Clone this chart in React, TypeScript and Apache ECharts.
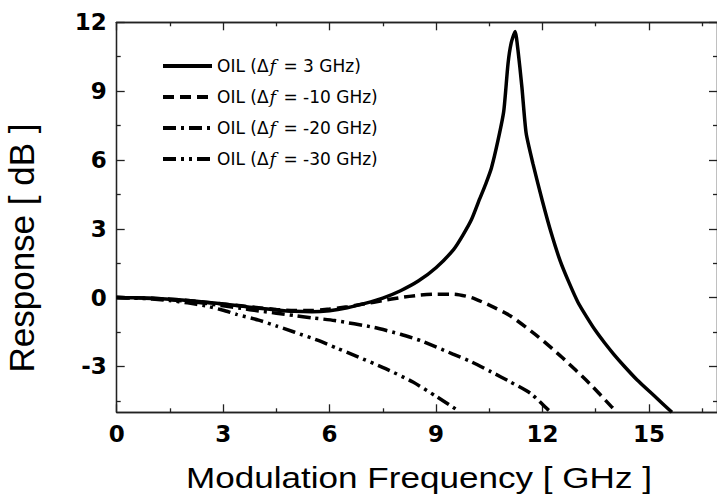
import React, { useEffect, useRef } from "react";
import * as echarts from "echarts";

const X_MAX = 16.92;
const Y_MIN = -5;
const Y_MAX = 12;
const xMajor = [0, 3, 6, 9, 12, 15];
const xMinor = [1.5, 4.5, 7.5, 10.5, 13.5, 16.5];
const yMajor = [-3, 0, 3, 6, 9, 12];
const yMinor = [-4.5, -1.5, 1.5, 4.5, 7.5, 10.5];

const seriesNames = [
  "OIL (Δf = 3 GHz)",
  "OIL (Δf = -10 GHz)",
  "OIL (Δf = -20 GHz)",
  "OIL (Δf = -30 GHz)",
];

const oil3 = [
  [0, 0], [0.5, -0.01], [1, -0.03], [1.5, -0.07], [2, -0.13], [2.5, -0.2], [3, -0.28],
  [3.5, -0.37], [4, -0.46], [4.5, -0.54], [5, -0.6], [5.5, -0.62], [6, -0.57], [6.5, -0.44],
  [7, -0.25], [7.5, -0.02], [8, 0.3], [8.5, 0.72], [9, 1.3], [9.5, 2.1], [9.75, 2.7],
  [10, 3.4], [10.23, 4.3], [10.4, 4.95], [10.56, 5.64], [10.75, 6.87], [10.91, 8.13],
  [11.03, 10.2], [11.12, 11.1], [11.23, 11.6], [11.31, 10.79], [11.42, 9.19], [11.54, 7.17],
  [11.73, 5.85], [12, 4.2], [12.25, 2.8], [12.5, 1.6], [12.75, 0.65], [13, -0.2],
  [13.25, -0.85], [13.5, -1.45], [13.75, -1.97], [14, -2.45], [14.3, -2.98], [14.67, -3.59],
  [15.15, -4.28], [15.65, -5],
];

const oilM10 = [
  [0, 0], [0.5, -0.01], [1, -0.03], [1.5, -0.07], [2, -0.13], [2.5, -0.2], [3, -0.28],
  [3.5, -0.36], [4, -0.44], [4.5, -0.52], [5, -0.56], [5.5, -0.56], [6, -0.5], [6.5, -0.4],
  [7, -0.27], [7.5, -0.13], [8, 0.0], [8.5, 0.1], [9, 0.15], [9.5, 0.15], [10, 0.0],
  [10.56, -0.37], [11.1, -0.8], [11.9, -1.73], [12.55, -2.6], [13.33, -3.75], [13.93, -4.73],
  [14.1, -5],
];

const oilM20 = [
  [0, 0], [0.5, -0.01], [1, -0.04], [1.5, -0.09], [2, -0.16], [2.5, -0.25], [3, -0.36],
  [3.5, -0.47], [4, -0.58], [4.5, -0.68], [5, -0.78], [5.5, -0.88], [6.14, -1.0],
  [7.25, -1.3], [8, -1.6], [8.57, -1.88], [9.46, -2.45], [10, -2.8], [10.56, -3.24],
  [11.1, -3.68], [11.67, -4.18], [12.17, -4.9], [12.25, -5],
];

const oilM30 = [
  [0, 0], [0.5, -0.02], [1, -0.06], [1.5, -0.13], [2, -0.23], [2.5, -0.36], [3, -0.55],
  [3.38, -0.73], [4, -0.98], [4.49, -1.23], [5, -1.5], [5.7, -1.88], [6.2, -2.2],
  [6.7, -2.52], [7.58, -3.1], [8.35, -3.68], [9.02, -4.32], [9.55, -4.85],
];

const seriesData = [oil3, oilM10, oilM20, oilM30];
const dashes: any[] = ["solid", [11, 6], [13, 5, 3, 5], [13, 5, 3, 5, 3, 5]];

const AXIS_COLOR = "#222";

function makeX(position: string, major: boolean, labels: boolean) {
  return {
    type: "value",
    position,
    min: 0,
    max: X_MAX,
    axisLine: { show: true, onZero: false, lineStyle: { color: AXIS_COLOR, width: 1.3 } },
    axisTick: {
      show: true,
      inside: true,
      length: major ? 8 : 4,
      customValues: major ? xMajor : xMinor,
      lineStyle: { color: AXIS_COLOR, width: 1.3 },
    },
    axisLabel: labels
      ? {
          show: true,
          customValues: xMajor,
          margin: 10,
          color: "#000",
          fontFamily: "DejaVu Sans",
          fontWeight: "bold",
          fontSize: 23,
          formatter: (v: number) => String(v),
        }
      : { show: false },
    splitLine: { show: false },
  };
}

function makeY(position: string, major: boolean, labels: boolean) {
  return {
    type: "value",
    position,
    min: Y_MIN,
    max: Y_MAX,
    axisLine: { show: true, onZero: false, lineStyle: { color: AXIS_COLOR, width: 1.3 } },
    axisTick: {
      show: true,
      inside: true,
      length: major ? 8 : 4,
      customValues: major ? yMajor : yMinor,
      lineStyle: { color: AXIS_COLOR, width: 1.3 },
    },
    axisLabel: labels
      ? {
          show: true,
          customValues: yMajor,
          margin: 10,
          color: "#000",
          fontFamily: "DejaVu Sans",
          fontWeight: "bold",
          fontSize: 23,
          formatter: (v: number) => String(v),
        }
      : { show: false },
    splitLine: { show: false },
  };
}

export default function App() {
  const ref = useRef<HTMLDivElement>(null);
  useEffect(() => {
    if (!ref.current) return;
    const chart = echarts.init(ref.current, undefined, { renderer: "svg" });
    const option: any = {
      animation: false,
      backgroundColor: "#fff",
      grid: { left: 116.7, top: 22.3, width: X_MAX * 35.667, height: 390, containLabel: false },
      xAxis: [
        makeX("bottom", true, true),
        makeX("bottom", false, false),
        makeX("top", true, false),
        makeX("top", false, false),
      ],
      yAxis: [
        makeY("left", true, true),
        makeY("left", false, false),
        makeY("right", true, false),
        makeY("right", false, false),
      ],
      legend: {
        show: true,
        orient: "vertical",
        left: 156,
        top: 51,
        itemWidth: 49,
        itemHeight: 14,
        itemGap: 11,
        data: seriesNames,
        lineStyle: { width: 4 },
        itemStyle: { opacity: 0 },
        formatter: (name: string) => {
          const parts = name.split("Δf");
          return "{n|" + parts[0] + "Δ}{i|f}{n|" + parts[1] + "}";
        },
        textStyle: {
          color: "#000",
          fontFamily: "DejaVu Sans",
          fontSize: 17,
          lineHeight: 20,
          rich: {
            n: { fontFamily: "DejaVu Sans", fontSize: 17, color: "#000" },
            i: { fontFamily: "DejaVu Serif", fontStyle: "italic", fontSize: 17.5, color: "#000", padding: [0, 2, 0, 1] },
          },
        },
      },
      series: seriesData.map((d, i) => ({
        name: seriesNames[i],
        type: "line",
        xAxisIndex: 0,
        yAxisIndex: 0,
        data: d,
        symbol: "none",
        showSymbol: false,
        smooth: 0.2,
        lineStyle: { color: "#000", width: 3.5, type: dashes[i] },
        itemStyle: { color: "#000" },
        z: 5,
      })),
      graphic: [
        {
          type: "text",
          x: 419,
          y: 478,
          scaleX: 1.21,
          style: {
            text: "Modulation Frequency [ GHz ]",
            font: '29px "Liberation Sans"',
            fill: "#000",
            align: "center",
            verticalAlign: "middle",
          },
        },
        {
          type: "text",
          x: 21,
          y: 248,
          rotation: Math.PI / 2,
          style: {
            text: "Response [ dB ]",
            font: '35px "Liberation Sans"',
            fill: "#000",
            align: "center",
            verticalAlign: "middle",
          },
        },
      ],
    };
    chart.setOption(option);
    return () => chart.dispose();
  }, []);
  return (
    <div
      ref={ref}
      style={{ position: "fixed", left: 0, top: 0, width: 717, height: 501, background: "#fff" }}
    />
  );
}
